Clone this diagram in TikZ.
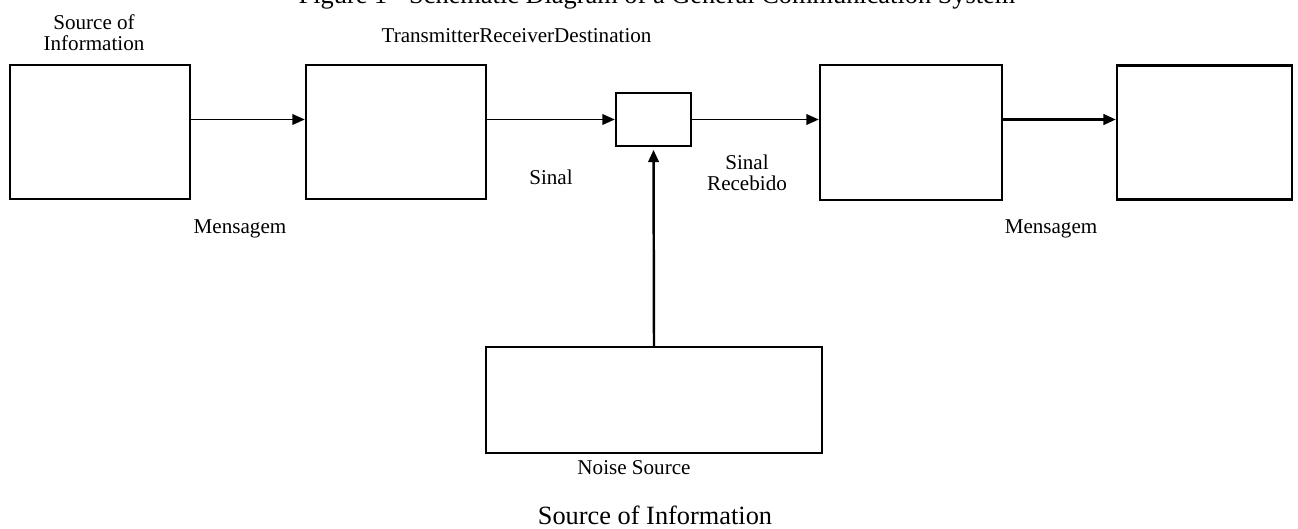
\documentclass[tikz,border=0pt]{standalone}
\usepackage{fontspec}
\setmainfont{Liberation Serif}
\usetikzlibrary{arrows.meta}

\begin{document}
\begin{tikzpicture}[
    blk/.style={draw=black, line width=1.4pt, inner sep=0pt},
    flow/.style={-{Triangle[length=7pt,width=6pt]}, line width=0.9pt},
    lbl/.style={font=\fontsize{12}{12}\selectfont, align=center, inner sep=0pt},
    captext/.style={font=\fontsize{15}{18}\selectfont, inner sep=0pt}
]

    \useasboundingbox (0,0) rectangle (25.96,10.56);

    % Title, cut off by the top edge
    \node[captext, anchor=base] (title) at (13.14,10.48) {Figure 1 - Schematic Diagram of a General Communication System};

    % Blocks along the channel
    \node[blk, minimum width=3.6cm, minimum height=2.68cm] (src) at (2.0,7.92) {};
    \node[blk, minimum width=3.6cm, minimum height=2.68cm] (tx) at (7.92,7.92) {};
    \node[blk, minimum width=1.5cm, minimum height=1.06cm] (hub) at (13.07,8.17) {};
    \node[blk, minimum width=3.64cm, minimum height=2.7cm] (rx) at (18.22,7.91) {};
    \node[blk, minimum width=3.5cm, minimum height=2.68cm] (dst) at (24.09,7.91) {};
    \node[blk, minimum width=6.72cm, minimum height=2.12cm] (noise) at (13.08,2.56) {};

    % Signal path
    \draw[flow] (src.east |- hub) -- (tx.west |- hub);
    \draw[flow] (tx.east |- hub) -- (hub.west);
    \draw[flow] (hub.east) -- (rx.west |- hub);
    \draw[flow, line width=1.4pt] (rx.east |- hub) -- (dst.west |- hub);
    \draw[flow, line width=1.4pt, shorten >=1.5pt] (noise.north) -- (hub.south);

    % Labels
    \node[lbl] (srclbl) at (1.88,9.9) {Source of\\Information};
    \node[lbl] (names) at (10.33,9.84) {TransmitterReceiverDestination};
    \node[lbl] (msgin) at (4.8,5.98) {Mensagem};
    \node[lbl] (sig) at (11.02,7.02) {Sinal};
    \node[lbl] (sigrx) at (14.94,7.1) {Sinal\\Recebido};
    \node[lbl] (msgout) at (21.02,5.98) {Mensagem};
    \node[lbl] (noiselbl) at (12.68,1.2) {Noise Source};
    \node[captext, anchor=base] (caption) at (13.1,0.07) {Source of Information};

\end{tikzpicture}
\end{document}
